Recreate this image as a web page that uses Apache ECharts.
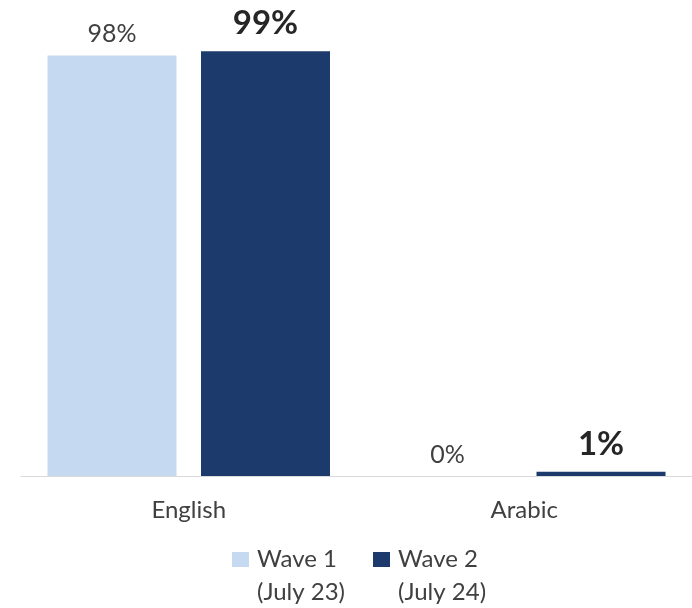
<!DOCTYPE html>
<html>
<head>
<meta charset="utf-8">
<script src="https://cdn.jsdelivr.net/npm/echarts@6/dist/echarts.min.js"></script>
<style>
  html, body { margin: 0; padding: 0; background: #ffffff; }
  #chart { width: 692px; height: 608px; }
</style>
</head>
<body>
<div id="chart"></div>
<script>
// Survey language share by wave
const categories = ['English', 'Arabic'];
const seriesNames = ['Wave 1\n(July 23)', 'Wave 2\n(July 24)'];
const wave1 = [98, 0];
const wave2 = [99, 1];

const FONT = 'Lato, "Open Sans", sans-serif';
const LINE = 33;

const chart = echarts.init(document.getElementById('chart'), null, { renderer: 'canvas' });

chart.setOption({
  backgroundColor: '#ffffff',
  animation: false,
  grid: { left: 21, right: 0, top: 47, bottom: 132 },
  legend: {
    left: 227,
    top: 505,
    itemWidth: 17,
    itemHeight: 15,
    itemGap: 28,
    icon: 'rect',
    // a blank first line keeps the swatch level with the first text line
    formatter: name => ' \n' + name,
    textStyle: {
      fontFamily: FONT,
      fontSize: 24,
      color: '#404040',
      lineHeight: LINE,
      padding: [0, 0, 0, 3]
    },
    data: seriesNames
  },
  xAxis: {
    type: 'category',
    data: categories,
    axisLine: { show: true, lineStyle: { color: '#d9d9d9', width: 1 } },
    axisTick: { show: false },
    axisLabel: { fontFamily: FONT, fontSize: 24, color: '#404040', margin: 22 }
  },
  yAxis: {
    type: 'value',
    min: 0,
    max: 100,
    show: false,
    splitLine: { show: false }
  },
  series: [
    {
      name: seriesNames[0],
      type: 'bar',
      data: wave1,
      barWidth: 129,
      barGap: '19%',
      itemStyle: { color: '#c5d9f0' },
      label: {
        show: true,
        position: 'top',
        distance: 9,
        formatter: '{c}%',
        fontFamily: FONT,
        fontSize: 25,
        color: '#404040'
      }
    },
    {
      name: seriesNames[1],
      type: 'bar',
      data: wave2,
      barWidth: 129,
      barGap: '19%',
      itemStyle: { color: '#1c3a6c' },
      label: {
        show: true,
        position: 'top',
        distance: 11,
        formatter: '{c}%',
        fontFamily: FONT,
        fontSize: 33,
        fontWeight: 'bold',
        color: '#262626'
      }
    }
  ]
});
</script>
</body>
</html>
